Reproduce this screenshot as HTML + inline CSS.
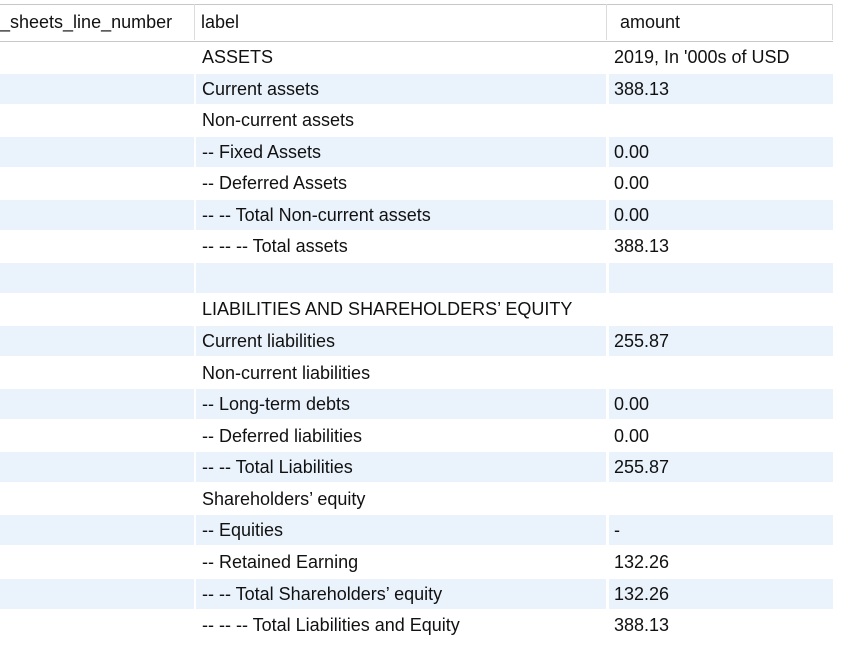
<!DOCTYPE html>
<html><head><meta charset="utf-8"><style>
html,body{margin:0;padding:0;width:848px;height:648px;background:#fff;overflow:hidden;font-family:"Liberation Sans","DejaVu Sans",sans-serif;}
#grid{position:absolute;left:0;top:0;width:848px;height:648px;}
.hdr{position:absolute;top:4px;height:36px;border-top:1px solid #c8c8c8;border-bottom:1px solid #c8c8c8;background:#fff;}
.hc{position:absolute;top:4px;height:36px;line-height:36px;font-size:18px;color:#111;border-right:1px solid #dcdcdc;box-sizing:border-box;padding-left:6px;white-space:nowrap;overflow:hidden;}
.cell{position:absolute;height:30px;line-height:31px;font-size:18px;color:#111;white-space:nowrap;box-sizing:border-box;padding-left:6px;overflow:hidden;}
.alt{background:#eaf2fc;}
</style></head><body>
<div id="grid">
<div class="hdr" style="left:0;width:833px"></div>
<div class="hc" style="left:0;width:195px;padding-left:0">_sheets_line_number</div>
<div class="hc" style="left:195px;width:412px">label</div>
<div class="hc" style="left:607px;width:226px;padding-left:13px">amount</div>
</div>
<script>
const labels=["ASSETS","Current assets","Non-current assets","-- Fixed Assets","-- Deferred Assets","-- -- Total Non-current assets","-- -- -- Total assets","","LIABILITIES AND SHAREHOLDERS\u2019 EQUITY","Current liabilities","Non-current liabilities","-- Long-term debts","-- Deferred liabilities","-- -- Total Liabilities","Shareholders\u2019 equity","-- Equities","-- Retained Earning","-- -- Total Shareholders\u2019 equity","-- -- -- Total Liabilities and Equity"];
const amounts=["2019, In '000s of USD","388.13","","0.00","0.00","0.00","388.13","","","255.87","","0.00","0.00","255.87","","-","132.26","132.26","388.13"];
const g=document.getElementById('grid');
const top0=42, rh=31.56;
labels.forEach((l,i)=>{
  const y=top0+i*rh;
  const alt=i%2===1;
  const cols=[[0,194,""],[196,410,l],[609,224,amounts[i]]];
  cols.forEach((c,j)=>{
    const d=document.createElement('div');
    d.className='cell'+(alt?' alt':'');
    d.style.left=c[0]+'px';d.style.top=y+'px';d.style.width=c[1]+'px';
    if(j===2)d.style.paddingLeft='5px';
    d.textContent=c[2];
    
    
    g.appendChild(d);
  });
});
</script>
</body></html>
